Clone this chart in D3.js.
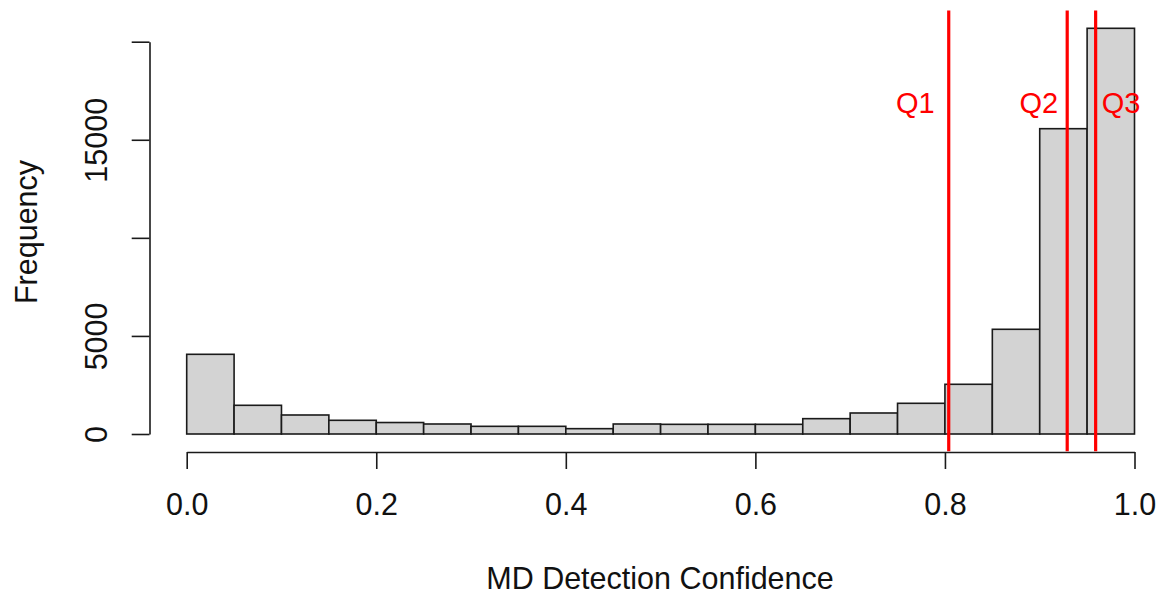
<!DOCTYPE html>
<html>
<head>
<meta charset="utf-8">
<script src="https://cdn.jsdelivr.net/npm/d3@7"></script>
<style>
  body { margin: 0; background: #fff; }
  svg { display: block; font-family: "Liberation Sans", Arial, sans-serif; }
</style>
</head>
<body>
<div id="wrapper"></div>
<script>
// histogram breaks and counts
const breaks = [0, 0.05, 0.1, 0.15, 0.2, 0.25, 0.3, 0.35, 0.4, 0.45, 0.5,
                0.55, 0.6, 0.65, 0.7, 0.75, 0.8, 0.85, 0.9, 0.95, 1.0];
const counts = [4063, 1463, 969, 698, 585, 510, 391, 391, 272, 510,
                493, 493, 493, 782, 1071, 1565, 2534, 5338, 15565, 20683];

const quartiles = [0.804, 0.929, 0.959];
const quartileLabels = ["Q1", "Q2", "Q3"];

const xTicks = [0, 0.2, 0.4, 0.6, 0.8, 1.0];
const xTickLabels = ["0.0", "0.2", "0.4", "0.6", "0.8", "1.0"];
const yTicks = [0, 5000, 10000, 15000, 20000];
const yTickLabels = ["0", "5000", "", "15000", ""];

function buildPlot() {
    const dimension = { width: 1159, height: 595 };
    const fontSize = 30.5;

    const bins = counts.map((c, i) => ({ x0: breaks[i], x1: breaks[i + 1], count: c }));

    const xScaler = d3.scaleLinear().domain([0, 1]).range([186.7, 1134.5]);
    const yScaler = d3.scaleLinear().domain([0, 20000]).range([434, 41.7]);

    const svg = d3.select("#wrapper").append("svg")
        .attr("width", dimension.width)
        .attr("height", dimension.height);

    // bars
    svg.append("g").selectAll("rect")
        .data(bins)
        .join("rect")
        .attr("x", d => xScaler(d.x0))
        .attr("y", d => yScaler(d.count))
        .attr("width", d => xScaler(d.x1) - xScaler(d.x0))
        .attr("height", d => yScaler(0) - yScaler(d.count))
        .attr("fill", "#d3d3d3")
        .attr("stroke", "#1a1a1a")
        .attr("stroke-width", 1.6);

    // x axis
    const xAxis = d3.axisBottom(xScaler)
        .tickValues(xTicks)
        .tickFormat((d, i) => xTickLabels[i])
        .tickSize(17)
        .tickSizeOuter(0)
        .tickPadding(24);
    const gx = svg.append("g")
        .attr("transform", "translate(0,452)")
        .call(xAxis);
    gx.select(".domain").attr("stroke", "#1a1a1a").attr("stroke-width", 1.6);
    gx.selectAll(".tick line").attr("stroke", "#1a1a1a").attr("stroke-width", 1.6);
    gx.selectAll(".tick text")
        .attr("font-size", fontSize)
        .attr("fill", "#111")
        .attr("font-family", "Liberation Sans, Arial, sans-serif");

    // y axis
    const yAxis = d3.axisLeft(yScaler)
        .tickValues(yTicks)
        .tickFormat((d, i) => yTickLabels[i])
        .tickSize(17.8)
        .tickSizeOuter(0);
    const gy = svg.append("g")
        .attr("transform", "translate(149.5,0)")
        .call(yAxis);
    gy.select(".domain").attr("stroke", "#1a1a1a").attr("stroke-width", 1.6);
    gy.selectAll(".tick line").attr("stroke", "#1a1a1a").attr("stroke-width", 1.6);
    gy.selectAll(".tick text")
        .attr("font-size", fontSize)
        .attr("fill", "#111")
        .attr("font-family", "Liberation Sans, Arial, sans-serif")
        .attr("text-anchor", "middle")
        .attr("x", 0)
        .attr("dy", 0)
        .attr("transform", "translate(-42.5,0) rotate(-90)");

    // quartile lines span the plot region
    const maxCount = d3.max(counts);
    svg.append("g").selectAll("line")
        .data(quartiles)
        .join("line")
        .attr("x1", d => xScaler(d))
        .attr("x2", d => xScaler(d))
        .attr("y1", yScaler(maxCount * 1.04) - 1.5)
        .attr("y2", yScaler(-maxCount * 0.04) + 1)
        .attr("stroke", "#ff0000")
        .attr("stroke-width", 3.2);

    const labelShift = [-14, -9, 6];
    svg.append("g").selectAll("text")
        .data(quartiles)
        .join("text")
        .attr("x", (d, i) => xScaler(d) + labelShift[i])
        .attr("y", 113)
        .attr("text-anchor", (d, i) => labelShift[i] < 0 ? "end" : "start")
        .attr("font-size", 29)
        .attr("fill", "#ff0000")
        .text((d, i) => quartileLabels[i]);

    // axis titles
    svg.append("text")
        .attr("x", 660)
        .attr("y", 589)
        .attr("text-anchor", "middle")
        .attr("font-size", fontSize)
        .attr("fill", "#111")
        .text("MD Detection Confidence");

    svg.append("text")
        .attr("transform", "translate(37,232) rotate(-90)")
        .attr("text-anchor", "middle")
        .attr("font-size", fontSize)
        .attr("fill", "#111")
        .text("Frequency");
}

buildPlot();
</script>
</body>
</html>
